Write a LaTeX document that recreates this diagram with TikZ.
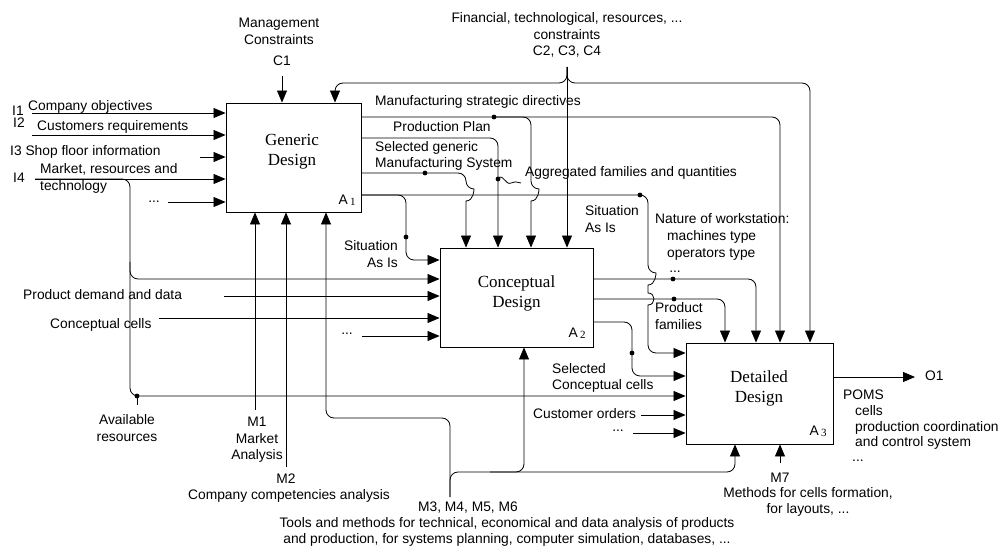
\documentclass[tikz,border=0pt]{standalone}
\usepackage{fontspec}
\setmainfont{Liberation Sans}
\newfontfamily\titlefont{Liberation Serif}
\usetikzlibrary{arrows.meta}
\newcommand{\boxnum}[1]{A\,\raisebox{-1.5pt}{\titlefont\fontsize{11}{12}\selectfont #1}}
\begin{document}
\begin{tikzpicture}[x=1pt,y=-1pt,
  lbl/.style={font=\fontsize{13.8}{16.5}\selectfont, inner sep=0pt, text height=9.5pt, text depth=2.5pt},
  lblm/.style={font=\fontsize{13.8}{16.5}\selectfont, inner sep=0pt},
  dotsl/.style={font=\fontsize{13.8}{16.5}\selectfont, inner sep=0pt, text height=2pt, text depth=0pt},
  ttl/.style={font=\titlefont\fontsize{17}{20}\selectfont, align=center, inner sep=0pt},
  box/.style={draw, line width=0.9pt, inner sep=0pt},
  ln/.style={line width=0.8pt},
  arr/.style={ln, -{Triangle[length=12pt,width=10pt]}},
  rc/.style={rounded corners=8pt},
  bumpR/.style={to path={.. controls +(8,0) and +(8,0) .. (\tikztotarget)}}]
\useasboundingbox (0,0) rectangle (1005,553);

% boxes
\node[box, minimum width=135pt, minimum height=109pt] (A1) at (293.5,157.5) {};
\node[box, minimum width=153pt, minimum height=99pt] (A2) at (516.5,297.5) {};
\node[box, minimum width=147pt, minimum height=101pt] (A3) at (759.5,393.5) {};
\node[ttl] (t1) at (292,152) {Generic\\Design};
\node[ttl] (t2) at (516.5,293) {Conceptual\\Design};
\node[ttl] (t3) at (759,388) {Detailed\\Design};
\node[lbl] (n1) at (347,201) {\boxnum{1}};
\node[lbl] (n2) at (577,334) {\boxnum{2}};
\node[lbl] (n3) at (818,432) {\boxnum{3}};

% coordinates
\coordinate (i1) at (32,113);
\coordinate (i2) at (32,135);
\coordinate (i3) at (200,157);
\coordinate (i4) at (35,179);
\coordinate (i5) at (168,202);
\coordinate (i4c) at (130,179);
\coordinate (avc) at (130,396);
\coordinate (avr) at (137,396);
\coordinate (avs) at (137,405);
\coordinate (br1) at (130,262);
\coordinate (br2) at (130,279);
\coordinate (pd) at (224,296);
\coordinate (cc) at (159,318);
\coordinate (d2) at (362,336);
\coordinate (co) at (641,415);
\coordinate (d3) at (633,433);
\coordinate (c1) at (282,76);
\coordinate (c2) at (567,67);
\coordinate (cj) at (567,83);
\coordinate (cl) at (335,83);
\coordinate (cr) at (810,83);
\coordinate (m1) at (255,410);
\coordinate (m2) at (286,467);
\coordinate (m3) at (450,497);
\coordinate (mj1) at (450,418);
\coordinate (ml) at (326,418);
\coordinate (mj2) at (450,472);
\coordinate (mr) at (735,472);
\coordinate (mmj) at (490,472);
\coordinate (mm) at (524,472);
\coordinate (m7) at (780,463);
\coordinate (sd) at (494,117);
\coordinate (sdc) at (531,117);
\coordinate (sdr) at (780,117);
\coordinate (ppc) at (498,138);
\coordinate (agg) at (498,179);
\coordinate (sg) at (425,173);
\coordinate (sgc) at (466,173);
\coordinate (sa) at (640,195);
\coordinate (sac) at (648,195);
\coordinate (sab) at (648,353);
\coordinate (saj) at (406,195);
\coordinate (sai) at (406,237);
\coordinate (si2) at (406,260);
\coordinate (dd) at (673,279);
\coordinate (ddc) at (756,279);
\coordinate (pf) at (674,299);
\coordinate (pfc) at (725,299);
\coordinate (sct) at (632,322);
\coordinate (scc) at (632,353);
\coordinate (scb) at (632,376);
\coordinate (o1) at (915,377);

% A1 inputs
\draw[arr] (i1) -- (i1 -| A1.west);
\draw[arr] (i2) -- (i2 -| A1.west);
\draw[arr] (i3) -- (i3 -| A1.west);
\draw[arr] (i4) -- (i4 -| A1.west);
\draw[arr] (i5) -- (i5 -| A1.west);
\draw[arr, rc] (i4) -- (i4c) -- (avc) -- (avc -| A3.west);
\draw[arr, rc] (br1) -- (br2) -- (br2 -| A2.west);
% A2 inputs
\draw[arr] (pd) -- (pd -| A2.west);
\draw[arr] (cc) -- (cc -| A2.west);
\draw[arr] (d2) -- (d2 -| A2.west);
% A3 inputs
\draw[arr] (co) -- (co -| A3.west);
\draw[arr] (d3) -- (d3 -| A3.west);
% controls
\draw[arr] (c1) -- (c1 |- A1.north);
\draw[arr] (c2) -- (c2 |- A2.north);
\draw[arr, rc] (c2) -- (cj) -- (cl) -- (cl |- A1.north);
\draw[arr, rc] (c2) -- (cj) -- (cr) -- (cr |- A3.north);
% mechanisms
\draw[arr] (m1) -- (m1 |- A1.south);
\draw[arr] (m2) -- (m2 |- A1.south);
\draw[arr, rc] (m3) -- (mj1) -- (ml) -- (ml |- A1.south);
\draw[arr, rc] (m3) -- (mj2) -- (mr) -- (mr |- A3.south);
\draw[arr, rc] (mmj) -- (mm) -- (mm |- A2.south);
\draw[arr] (m7) -- (m7 |- A3.south);
% A1 outputs
\draw[arr, rc] (A1.east |- sd) -- (sdr) -- (sdr |- A3.north);
\draw[arr, rc] (sd) -- (sdc) -- (531,189) [sharp corners] to[bumpR] (531,201) -- (sdc |- A2.north);
\draw[arr, rc] (A1.east |- ppc) -- (ppc) -- (ppc |- A2.north);
\draw[arr, rc] (A1.east |- sg) -- (sgc) -- (466,189) [sharp corners] to[bumpR] (466,201) -- (sgc |- A2.north);
\draw[arr, rc] (A1.east |- sa) -- (sac) -- (648,273) [sharp corners] to[bumpR] (648,285) -- (648,293) to[bumpR] (648,305) [rounded corners=8pt] -- (sab) -- (sab -| A3.west);
\draw[arr, rc] (A1.east |- sa) -- (saj) -- (si2) -- (si2 -| A2.west);
% A2 outputs
\draw[arr, rc] (A2.east |- dd) -- (ddc) -- (ddc |- A3.north);
\draw[arr, rc] (A2.east |- pf) -- (pfc) -- (pfc |- A3.north);
\draw[arr, rc] (A2.east |- sct) -- (sct) -- (scb) -- (scb -| A3.west);
% A3 output
\draw[arr] (A3.east |- o1) -- (o1);

% dots and pointers
\foreach \p in {sd,sg,agg,sa,sai,dd,pf,scc,avr} \fill (\p) circle (2.4pt);
\draw[ln] (avr) -- (avs);
\draw[ln] (agg) .. controls (502,172) and (506,186) .. (511,183) .. controls (514,181) and (516,182) .. (521,183);

% labels
\node[lblm, align=center] (lC1a) at (279,31.5) {Management\\Constraints};
\node[lbl] (lC1) at (282,62) {C1};
\node[lblm, align=center] (lC2) at (567,35) {Financial, technological, resources, ...\\constraints\\C2, C3, C4};
\node[lbl, anchor=west] (lI1t) at (28,107) {Company objectives};
\node[lbl, anchor=west] (lI1) at (12,112) {I1};
\node[lbl, anchor=west] (lI2) at (13,124) {I2};
\node[lbl, anchor=west] (lI2t) at (37,127) {Customers requirements};
\node[lbl, anchor=west] (lI3) at (10,152) {I3 Shop floor information};
\node[lbl, anchor=west] (lI4) at (13,179) {I4};
\node[lblm, anchor=west, align=left] (lI4t) at (40,178.5) {Market, resources and\\technology};
\node[dotsl] (lI5) at (154,202) {...};
\node[lbl, anchor=west] (lMSD) at (375,102) {Manufacturing strategic directives};
\node[lbl, anchor=west] (lPP) at (393,128) {Production Plan};
\node[lblm, anchor=west, align=left] (lSG) at (375,156) {Selected generic\\Manufacturing System};
\node[lbl, anchor=west] (lAgg) at (525,173) {Aggregated families and quantities};
\node[lblm, anchor=east, align=right] (lSA1) at (398,254) {Situation\\As Is};
\node[lblm, anchor=west, align=left] (lSA2) at (585,219) {Situation\\As Is};
\node[lbl, anchor=west] (lNW1) at (655,220) {Nature of workstation:};
\node[lbl, anchor=west] (lNW2) at (667,237) {machines type};
\node[lbl, anchor=west] (lNW3) at (667,254) {operators type};
\node[dotsl] (lD4) at (675,272) {...};
\node[lblm, anchor=west, align=left] (lPF) at (655,316) {Product\\families};
\node[lblm, anchor=west, align=left] (lSCC) at (552,378) {Selected\\Conceptual cells};
\node[lbl, anchor=west] (lPD) at (23,296) {Product demand and data};
\node[lbl, anchor=west] (lCC) at (50,325) {Conceptual cells};
\node[dotsl] (lD2) at (347,334) {...};
\node[lbl, anchor=west] (lCO) at (533,415) {Customer orders};
\node[dotsl] (lD3) at (618,431) {...};
\node[lblm, align=center] (lAV) at (127,428) {Available\\resources};
\node[lblm, align=center] (lM1) at (257,440) {M1\\Market\\Analysis};
\node[lbl] (lM2) at (286,480) {M2};
\node[lbl] (lM2t) at (289,496) {Company competencies analysis};
\node[lbl] (lM3) at (468,508) {M3, M4, M5, M6};
\node[lblm, align=center] (lM3t) at (507,532) {Tools and methods for technical, economical and data analysis of products\\and production, for systems planning, computer simulation, databases, ...};
\node[lbl] (lM7) at (780,479) {M7};
\node[lblm, align=center] (lM7t) at (808,502) {Methods for cells formation,\\for layouts, ...};
\node[lbl, anchor=west] (lO1) at (925,377) {O1};
\node[lbl, anchor=west] (lPOMS) at (843,396) {POMS};
\node[lbl, anchor=west] (lP1) at (855,412) {cells};
\node[lbl, anchor=west] (lP2) at (855,428) {production coordination};
\node[lbl, anchor=west] (lP3) at (855,443) {and control system};
\node[dotsl, anchor=west] (lP4) at (852,460) {...};
\end{tikzpicture}
\end{document}
